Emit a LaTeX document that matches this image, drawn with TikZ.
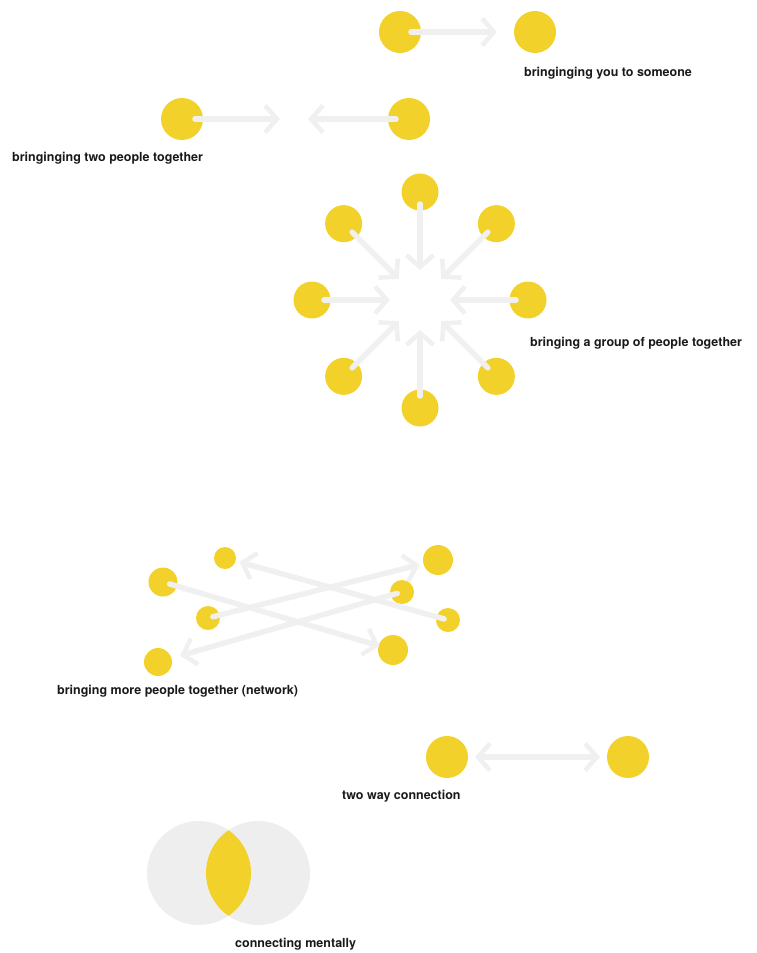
\documentclass[tikz,border=0pt]{standalone}
\usepackage{fontspec}
\setmainfont{TeX Gyre Heros}
\usetikzlibrary{arrows.meta,calc}
\definecolor{sun}{RGB}{242,210,42}
\definecolor{mist}{RGB}{240,240,240}
\definecolor{haze}{RGB}{238,238,238}
\tikzset{
  person/.style={circle,fill=sun,inner sep=0pt,minimum size=#1},
  person/.default=42pt,
  barb/.tip={Straight Barb[length=12pt,width=27pt,line width=4.5pt]},
  link/.style={draw=mist,line width=5.5pt,line cap=round,-barb},
  twoway/.style={draw=mist,line width=5.5pt,barb-barb},
  caption/.style={anchor=base west,inner sep=0pt,font=\fontsize{12.5pt}{14pt}\selectfont\bfseries,text=black!90}
}
\begin{document}
\begin{tikzpicture}[x=1pt,y=-1pt]
\useasboundingbox (0,0) rectangle (757,953);

% you -> someone
\node[person] (you) at (400,32) {};
\node[person] (someone) at (535,32) {};
\draw[link] ($(you)!11pt!(someone)$) -- ($(someone)!38pt!(you)$);
\node[caption] (capA) at (524,76) {bringinging you to someone};

% two people brought together
\node[person] (pl) at (182,119) {};
\node[person] (pr) at (409,119) {};
\coordinate (meet) at (294,119);
\draw[link] ($(pl)!13pt!(pr)$) -- ($(meet)!14pt!(pl)$);
\draw[link] ($(pr)!13pt!(pl)$) -- ($(meet)!14pt!(pr)$);
\node[caption] (capB) at (12,161) {bringinging two people together};

% group gathered around a hub
\coordinate (hub) at (420,300);
\foreach \a in {0,45,...,315}{
  \node[person=37pt] (g\a) at ($(hub)+(\a:108pt)$) {};
  \draw[link] ($(g\a)!12pt!(hub)$) -- ($(hub)!30pt!(g\a)$);
}
\node[caption] (capC) at (530,346) {bringing a group of people together};

% network
\node[person=22pt] (nA) at (225,558) {};
\node[person=29pt] (nB) at (163,582) {};
\node[person=24pt] (nC) at (208,618) {};
\node[person=28pt] (nD) at (158,662) {};
\node[person=30pt] (nE) at (438,560) {};
\node[person=24pt] (nF) at (402,592) {};
\node[person=24pt] (nG) at (448,620) {};
\node[person=30pt] (nH) at (393,650) {};
\draw[link] ($(nB)!7pt!(nH)$) -- ($(nH)!14pt!(nB)$);
\draw[link] ($(nC)!5pt!(nE)$) -- ($(nE)!19pt!(nC)$);
\draw[link] ($(nF)!5pt!(nD)$) -- ($(nD)!23pt!(nF)$);
\draw[link] ($(nG)!4pt!(nA)$) -- ($(nA)!15pt!(nG)$);
\node[caption] (capD) at (57,694) {bringing more people together (network)};

% two way connection
\node[person] (wl) at (447,757) {};
\node[person] (wr) at (628,757) {};
\draw[twoway] ($(wl)!28pt!(wr)$) -- ($(wr)!28pt!(wl)$);
\node[caption] (capE) at (342,799) {two way connection};

% overlapping minds
\fill[haze] (199,873) circle (52pt);
\fill[haze] (258,873) circle (52pt);
\begin{scope}
  \clip (199,873) circle (52pt);
  \fill[sun] (258,873) circle (52pt);
\end{scope}
\node[caption] (capF) at (235,947) {connecting mentally};
\end{tikzpicture}
\end{document}
